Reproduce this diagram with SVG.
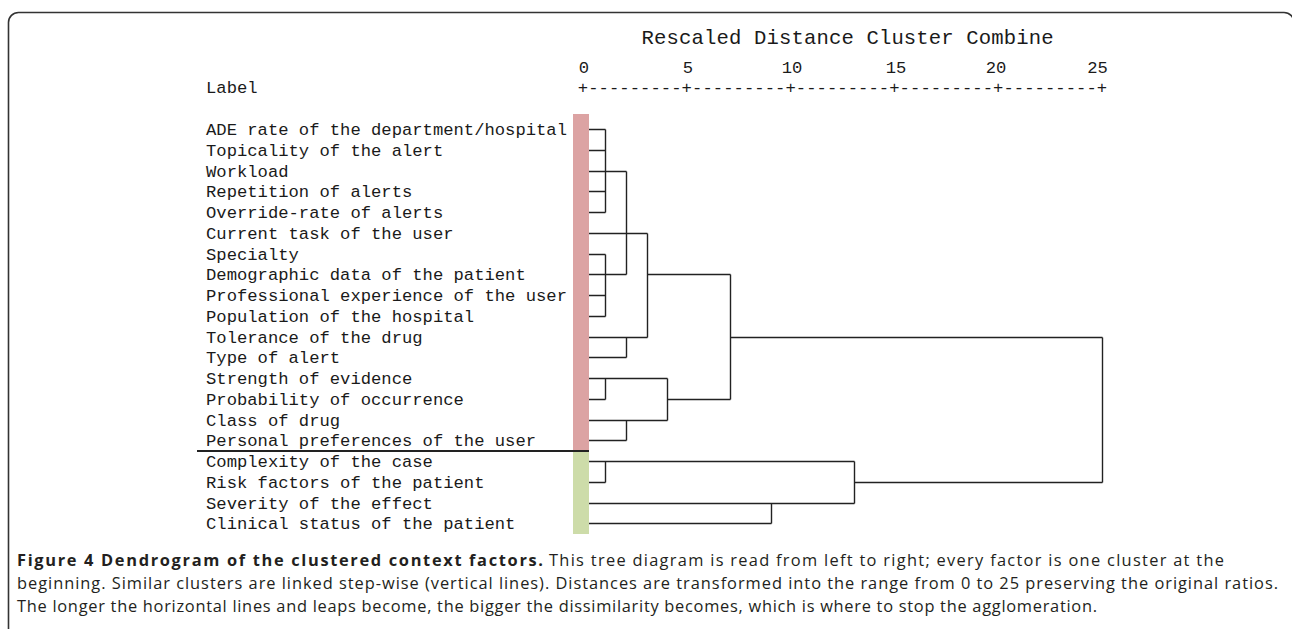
<svg xmlns="http://www.w3.org/2000/svg" width="1292" height="629" viewBox="0 0 1292 629">
  <style>
    .mono { font-family: "Liberation Mono", "DejaVu Sans Mono", monospace; font-size: 17.2px; fill: #1a1a1a; }
    .title { font-family: "Liberation Mono", "DejaVu Sans Mono", monospace; font-size: 20.6px; fill: #1a1a1a; }
    .lbl { font-family: "Liberation Mono", "DejaVu Sans Mono", monospace; font-size: 17.2px; fill: #1a1a1a; }
    .cap { font-family: "Open Sans", "Noto Sans", "Liberation Sans", sans-serif; font-size: 16.4px; fill: #231f20; }
    .capb { font-weight: bold; }
    .tree { fill: none; stroke: #222; stroke-width: 1.4; }
  </style>

  <!-- outer frame, rounded at the top -->
  <path d="M8.5,629 V22.5 A10,10 0 0 1 18.5,12.5 H1284 A10,10 0 0 1 1294,22.5" fill="none" stroke="#333" stroke-width="1.6"/>

  <!-- header -->
  <g id="header">
    <text class="title" x="847.6" y="44" text-anchor="middle" textLength="412" lengthAdjust="spacing">Rescaled Distance Cluster Combine</text>
    <text class="mono" x="584" y="73" text-anchor="middle">0</text>
    <text class="mono" x="688" y="73" text-anchor="middle">5</text>
    <text class="mono" x="792" y="73" text-anchor="middle">10</text>
    <text class="mono" x="896" y="73" text-anchor="middle">15</text>
    <text class="mono" x="996" y="73" text-anchor="middle">20</text>
    <text class="mono" x="1097.5" y="73" text-anchor="middle">25</text>
    <text class="mono" x="206" y="93">Label</text>
    <text class="mono" x="577.8" y="93" textLength="529.4" lengthAdjust="spacing">+---------+---------+---------+---------+---------+</text>
  </g>

  <!-- group colour bars and divider -->
  <rect x="573" y="114" width="16" height="337" fill="#dca3a3"/>
  <rect x="573" y="451" width="16" height="83" fill="#cddca9"/>
  <line x1="197" y1="451" x2="589" y2="451" stroke="#222" stroke-width="2"/>

  <!-- leaves -->
  <g id="leaves">
    <g id="leaf-ade"><text class="lbl" x="206" y="134.5">ADE rate of the department/hospital</text></g>
    <g id="leaf-topicality"><text class="lbl" x="206" y="155.5">Topicality of the alert</text></g>
    <g id="leaf-workload"><text class="lbl" x="206" y="176.5">Workload</text></g>
    <g id="leaf-repetition"><text class="lbl" x="206" y="196.5">Repetition of alerts</text></g>
    <g id="leaf-override"><text class="lbl" x="206" y="217.5">Override-rate of alerts</text></g>
    <g id="leaf-current-task"><text class="lbl" x="206" y="238.5">Current task of the user</text></g>
    <g id="leaf-specialty"><text class="lbl" x="206" y="259.5">Specialty</text></g>
    <g id="leaf-demographic"><text class="lbl" x="206" y="279.5">Demographic data of the patient</text></g>
    <g id="leaf-experience"><text class="lbl" x="206" y="300.5">Professional experience of the user</text></g>
    <g id="leaf-population"><text class="lbl" x="206" y="321.5">Population of the hospital</text></g>
    <g id="leaf-tolerance"><text class="lbl" x="206" y="342.5">Tolerance of the drug</text></g>
    <g id="leaf-type"><text class="lbl" x="206" y="362.5">Type of alert</text></g>
    <g id="leaf-strength"><text class="lbl" x="206" y="383.5">Strength of evidence</text></g>
    <g id="leaf-probability"><text class="lbl" x="206" y="404.5">Probability of occurrence</text></g>
    <g id="leaf-class"><text class="lbl" x="206" y="425.5">Class of drug</text></g>
    <g id="leaf-preferences"><text class="lbl" x="206" y="445.5">Personal preferences of the user</text></g>
    <g id="leaf-complexity"><text class="lbl" x="206" y="466.5">Complexity of the case</text></g>
    <g id="leaf-risk"><text class="lbl" x="206" y="487.5">Risk factors of the patient</text></g>
    <g id="leaf-severity"><text class="lbl" x="206" y="508.5">Severity of the effect</text></g>
    <g id="leaf-clinical"><text class="lbl" x="206" y="528.5">Clinical status of the patient</text></g>
  </g>

  <!-- dendrogram links -->
  <g id="connectors" class="tree">
    <!-- rows 0-4 -->
    <path d="M589,129.5 H605.5 M589,150.5 H605.5 M589,171.5 H626.5 M589,191.5 H605.5 M589,212.5 H605.5 M605.5,129.5 V212.5"/>
    <!-- rows 6-9 -->
    <path d="M589,254.5 H605.5 M589,274.5 H626.5 M589,295.5 H605.5 M589,316.5 H605.5 M605.5,254.5 V316.5"/>
    <path d="M626.5,171.5 V274.5"/>
    <!-- current task, tolerance, type -->
    <path d="M589,233.5 H647.5 M589,337.5 H647.5 M589,357.5 H626.5 M626.5,337.5 V357.5 M647.5,233.5 V337.5"/>
    <path d="M647.5,274.5 H730.5"/>
    <!-- rows 12-15 -->
    <path d="M589,378.5 H667.5 M589,399.5 H605.5 M605.5,378.5 V399.5"/>
    <path d="M589,420.5 H667.5 M589,440.5 H626.5 M626.5,420.5 V440.5"/>
    <path d="M667.5,378.5 V420.5 M667.5,399.5 H730.5"/>
    <path d="M730.5,274.5 V399.5 M730.5,337.5 H1102.5"/>
    <!-- rows 16-19 -->
    <path d="M589,461.5 H854.5 M589,482.5 H605.5 M605.5,461.5 V482.5"/>
    <path d="M589,503.5 H854.5 M589,523.5 H771.5 M771.5,503.5 V523.5"/>
    <path d="M854.5,461.5 V503.5 M854.5,482.5 H1102.5"/>
    <path d="M1102.5,337.5 V482.5"/>
  </g>

  <!-- caption -->
  <g id="caption">
    <text class="cap capb" x="17" y="566" textLength="526" lengthAdjust="spacing">Figure 4 Dendrogram of the clustered context factors.</text>
    <text class="cap" x="549" y="566" textLength="675" lengthAdjust="spacing">This tree diagram is read from left to right; every factor is one cluster at the</text>
    <text class="cap" x="17" y="589" textLength="1261" lengthAdjust="spacing">beginning. Similar clusters are linked step-wise (vertical lines). Distances are transformed into the range from 0 to 25 preserving the original ratios.</text>
    <text class="cap" x="17" y="612" textLength="1080" lengthAdjust="spacing">The longer the horizontal lines and leaps become, the bigger the dissimilarity becomes, which is where to stop the agglomeration.</text>
  </g>
</svg>
